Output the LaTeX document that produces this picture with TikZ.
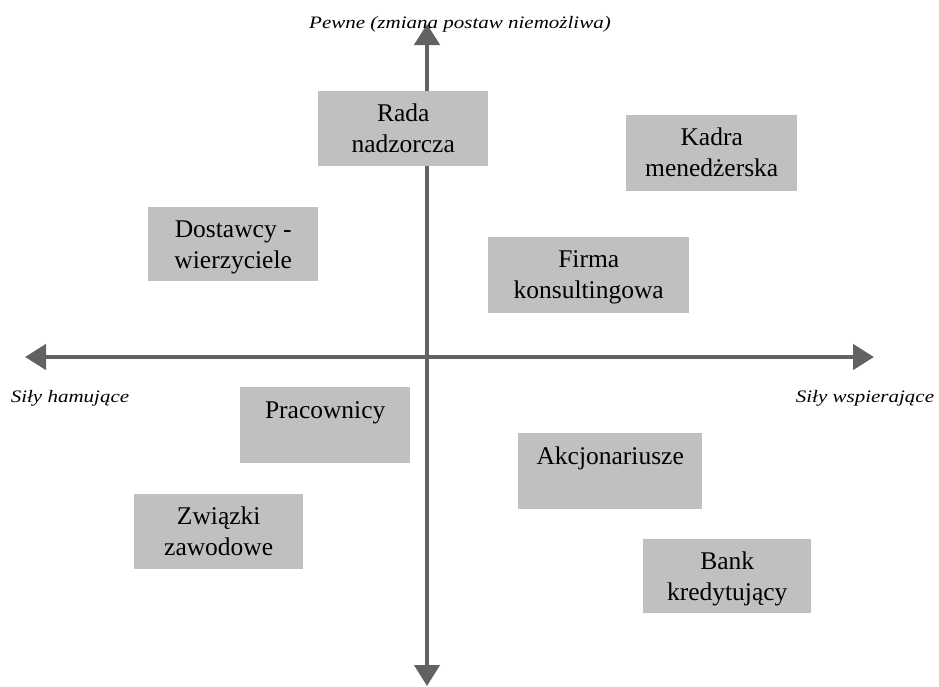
\documentclass[tikz,border=0pt]{standalone}
\usepackage{fontspec}
\setmainfont{Liberation Serif}
\newfontfamily\axisfont{Liberation Serif}[FakeStretch=1.2]
\usetikzlibrary{arrows.meta}

\definecolor{boxgray}{RGB}{192,192,192}
\definecolor{axisgray}{RGB}{98,98,98}

\begin{document}
\begin{tikzpicture}[x=1pt,y=-1pt,
  axis/.style={draw=axisgray, line width=4.5pt,
    -{Triangle[length=21pt,width=25pt]}},
  field/.style={fill=boxgray, draw=none, inner sep=0pt, anchor=north west},
  fieldtext/.style={inner sep=0pt, anchor=base,
    font=\fontsize{25.5}{31}\selectfont},
  axislabel/.style={inner sep=0pt, anchor=base,
    font=\axisfont\itshape\fontsize{17.5}{20}\selectfont}
]
\useasboundingbox (0,0) rectangle (939,686);

% axis end points
\coordinate (origin) at (427,357);
\coordinate (up) at (427,24);
\coordinate (down) at (427,686);
\coordinate (left) at (25,357);
\coordinate (right) at (874,357);

\draw[axis] (origin) -- (up);
\draw[axis] (origin) -- (down);
\draw[axis] (origin) -- (left);
\draw[axis] (origin) -- (right);

% axis labels
\node[axislabel] (lblup) at (460,28) {Pewne (zmiana postaw niemożliwa)};
\node[axislabel] (lblleft) at (70,402) {Siły hamujące};
\node[axislabel] (lblright) at (865,402) {Siły wspierające};

% stakeholder boxes: top-left corner, size, then text on the first baseline
\node[field, minimum width=170, minimum height=75] (rada) at (318,91) {};
\node[fieldtext] (radat) at (rada.north) [yshift=-30] {\begin{tabular}[t]{@{}c@{}}Rada\\nadzorcza\end{tabular}};

\node[field, minimum width=171, minimum height=76] (kadra) at (626,115) {};
\node[fieldtext] (kadrat) at (kadra.north) [yshift=-30] {\begin{tabular}[t]{@{}c@{}}Kadra\\menedżerska\end{tabular}};

\node[field, minimum width=170, minimum height=74] (dostawcy) at (148,207) {};
\node[fieldtext] (dostawcyt) at (dostawcy.north) [yshift=-30] {\begin{tabular}[t]{@{}c@{}}Dostawcy -\\wierzyciele\end{tabular}};

\node[field, minimum width=201, minimum height=76] (firma) at (488,237) {};
\node[fieldtext] (firmat) at (firma.north) [yshift=-30] {\begin{tabular}[t]{@{}c@{}}Firma\\konsultingowa\end{tabular}};

\node[field, minimum width=170, minimum height=76] (pracownicy) at (240,387) {};
\node[fieldtext] (pracownicyt) at (pracownicy.north) [yshift=-31] {Pracownicy};

\node[field, minimum width=184, minimum height=76] (akcjonariusze) at (518,433) {};
\node[fieldtext] (akcjonariuszet) at (akcjonariusze.north) [yshift=-31] {Akcjonariusze};

\node[field, minimum width=169, minimum height=75] (zwiazki) at (134,494) {};
\node[fieldtext] (zwiazkit) at (zwiazki.north) [yshift=-30] {\begin{tabular}[t]{@{}c@{}}Związki\\zawodowe\end{tabular}};

\node[field, minimum width=168, minimum height=74] (bank) at (643,539) {};
\node[fieldtext] (bankt) at (bank.north) [yshift=-30] {\begin{tabular}[t]{@{}c@{}}Bank\\kredytujący\end{tabular}};
\end{tikzpicture}
\end{document}
